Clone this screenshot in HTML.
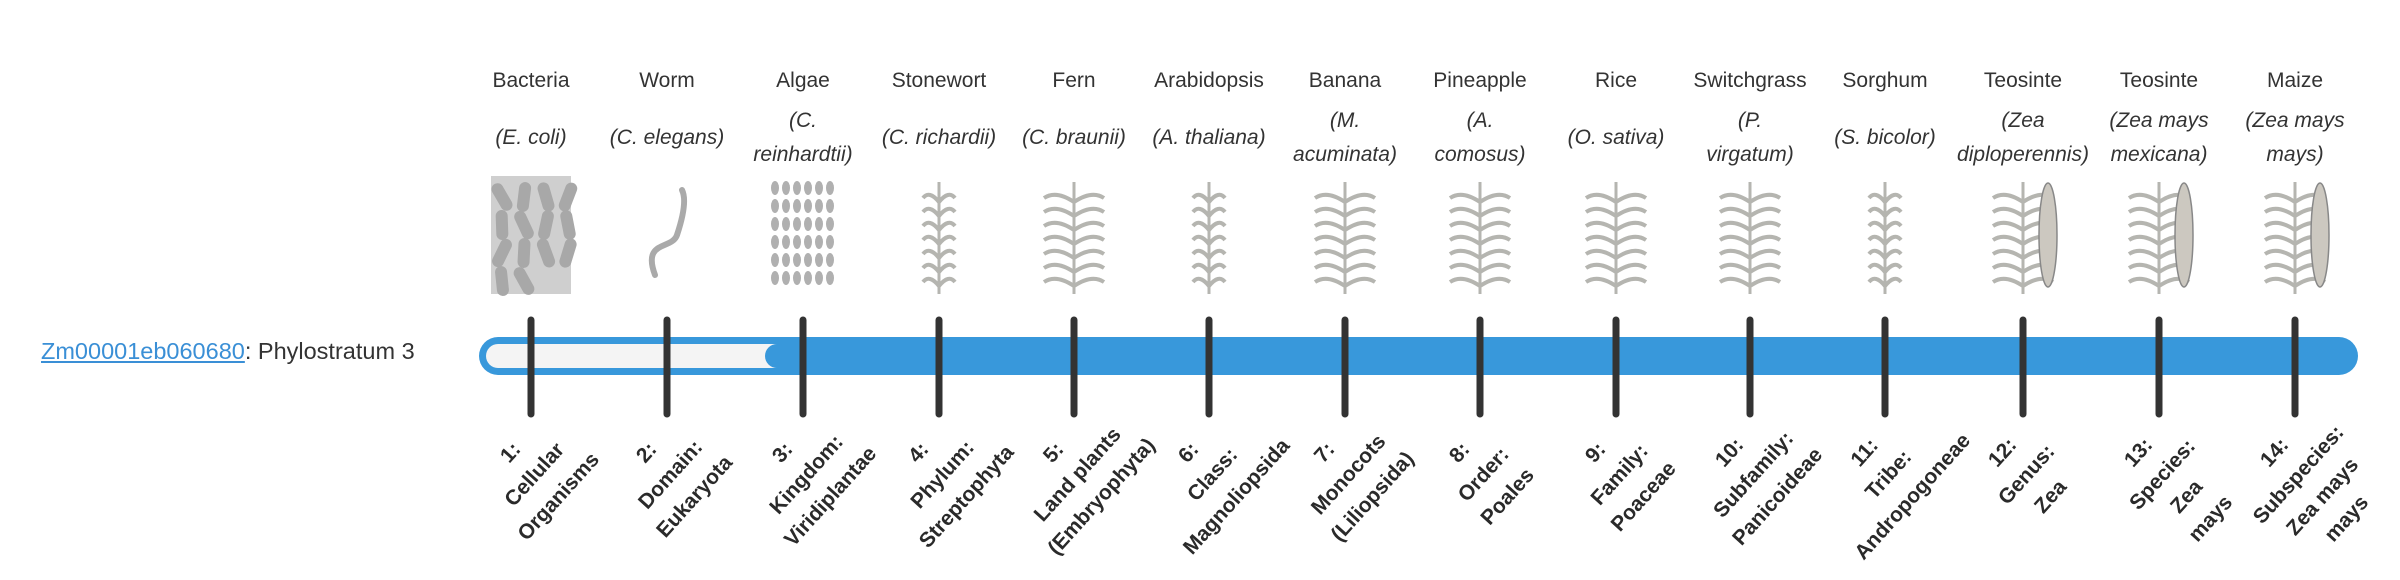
<!DOCTYPE html>
<html><head><meta charset="utf-8">
<style>
html,body{margin:0;padding:0;background:#fff;width:2400px;height:580px;overflow:hidden;position:relative;font-family:"Liberation Sans",sans-serif;color:#333}
.c{position:absolute;transform:translate(-50%,-50%);white-space:nowrap;font-size:21px;text-align:center}
.i{font-style:italic;line-height:34px}
.r{position:absolute;transform:translate(-50%,-50%) rotate(-48deg);white-space:nowrap;font-size:21px;font-weight:bold;color:#2a2a2a}
#lbl{position:absolute;left:41px;top:338px;font-size:23.5px;color:#333}
#lbl a{color:#3a8fd6;text-decoration:underline}
svg{position:absolute;left:0;top:0}
</style></head><body>
<svg id="g" width="2400" height="580"></svg>
<div id="lbl"><a>Zm00001eb060680</a>: Phylostratum 3</div>

<div class="c" style="left:531px;top:81px">Bacteria</div>
<div class="c" style="left:667px;top:81px">Worm</div>
<div class="c" style="left:803px;top:81px">Algae</div>
<div class="c" style="left:939px;top:81px">Stonewort</div>
<div class="c" style="left:1074px;top:81px">Fern</div>
<div class="c" style="left:1209px;top:81px">Arabidopsis</div>
<div class="c" style="left:1345px;top:81px">Banana</div>
<div class="c" style="left:1480px;top:81px">Pineapple</div>
<div class="c" style="left:1616px;top:81px">Rice</div>
<div class="c" style="left:1750px;top:81px">Switchgrass</div>
<div class="c" style="left:1885px;top:81px">Sorghum</div>
<div class="c" style="left:2023px;top:81px">Teosinte</div>
<div class="c" style="left:2159px;top:81px">Teosinte</div>
<div class="c" style="left:2295px;top:81px">Maize</div>

<div class="c i" style="left:531px;top:138px">(E. coli)</div>
<div class="c i" style="left:667px;top:138px">(C. elegans)</div>
<div class="c i" style="left:803px;top:138px">(C.<br>reinhardtii)</div>
<div class="c i" style="left:939px;top:138px">(C. richardii)</div>
<div class="c i" style="left:1074px;top:138px">(C. braunii)</div>
<div class="c i" style="left:1209px;top:138px">(A. thaliana)</div>
<div class="c i" style="left:1345px;top:138px">(M.<br>acuminata)</div>
<div class="c i" style="left:1480px;top:138px">(A.<br>comosus)</div>
<div class="c i" style="left:1616px;top:138px">(O. sativa)</div>
<div class="c i" style="left:1750px;top:138px">(P.<br>virgatum)</div>
<div class="c i" style="left:1885px;top:138px">(S. bicolor)</div>
<div class="c i" style="left:2023px;top:138px">(Zea<br>diploperennis)</div>
<div class="c i" style="left:2159px;top:138px">(Zea mays<br>mexicana)</div>
<div class="c i" style="left:2295px;top:138px">(Zea mays<br>mays)</div>

<div id="rot"></div>
<script>
var xs=[531,667,803,939,1074,1209,1345,1480,1616,1750,1885,2023,2159,2295];
var labs=[["1:","Cellular","Organisms"],["2:","Domain:","Eukaryota"],["3:","Kingdom:","Viridiplantae"],["4:","Phylum:","Streptophyta"],["5:","Land plants","(Embryophyta)"],["6:","Class:","Magnoliopsida"],["7:","Monocots","(Liliopsida)"],["8:","Order:","Poales"],["9:","Family:","Poaceae"],["10:","Subfamily:","Panicoideae"],["11:","Tribe:","Andropogoneae"],["12:","Genus:","Zea"],["13:","Species:","Zea","mays"],["14:","Subspecies:","Zea mays","mays"]];
var h="";
labs.forEach(function(L,i){L.forEach(function(t,k){h+='<div class="r" style="left:'+(xs[i]-20+k*24)+'px;top:'+(453+k*22)+'px">'+t+'</div>';});});
document.getElementById("rot").innerHTML=h;
var s='';
xs.forEach(function(x,i){
 var c='#b5b5b0';
 if(i==0){s+='<rect x="'+(x-40)+'" y="176" width="80" height="118" fill="#cfcfcf"/>';for(var k=0;k<14;k++){var a=x-35+(k%4)*22,b=182+Math.floor(k/4)*28;s+='<rect x="'+a+'" y="'+b+'" width="12" height="30" rx="6" fill="#a8a8a8" transform="rotate('+(k*37%60-30)+' '+(a+6)+' '+(b+15)+')"/>';}}
 else if(i==1){s+='<path d="M'+(x-12)+' 275 C '+(x-25)+' 240, '+(x+5)+' 250, '+(x+10)+' 235 S '+(x+20)+' 200, '+(x+15)+' 190" stroke="#aaa" stroke-width="6" fill="none" stroke-linecap="round"/>';}
 else if(i==2){for(var k=0;k<36;k++){s+='<ellipse cx="'+(x-28+(k%6)*11)+'" cy="'+(188+Math.floor(k/6)*18)+'" rx="4" ry="7" fill="#b0b0b0"/>';}}
 else{
  s+='<line x1="'+x+'" y1="182" x2="'+x+'" y2="294" stroke="'+c+'" stroke-width="3"/>';
  var w=(i==3||i==5||i==10)?16:30;
  for(var k=0;k<7;k++){var y=190+k*14;s+='<path d="M'+x+' '+(y+12)+' Q '+(x-w*0.6)+' '+y+' '+(x-w)+' '+(y+8)+'" stroke="'+c+'" stroke-width="4" fill="none"/><path d="M'+x+' '+(y+12)+' Q '+(x+w*0.6)+' '+y+' '+(x+w)+' '+(y+8)+'" stroke="'+c+'" stroke-width="4" fill="none"/>';}
  if(i>=11){s+='<ellipse cx="'+(x+25)+'" cy="235" rx="9" ry="52" fill="#ccc8c0" stroke="#888" stroke-width="1.5"/>';}
 }
});
s+='<rect x="479" y="337" width="1879" height="38" rx="19" fill="#3898db"/>';
s+='<rect x="486" y="344" width="300" height="24" rx="12" fill="#f4f4f4"/>';
s+='<rect x="765" y="344" width="60" height="24" rx="12" fill="#3898db"/>';
xs.forEach(function(x){s+='<line x1="'+x+'" y1="320" x2="'+x+'" y2="414" stroke="#333" stroke-width="7" stroke-linecap="round"/>';});
document.getElementById("g").innerHTML=s;
</script>
</body></html>
